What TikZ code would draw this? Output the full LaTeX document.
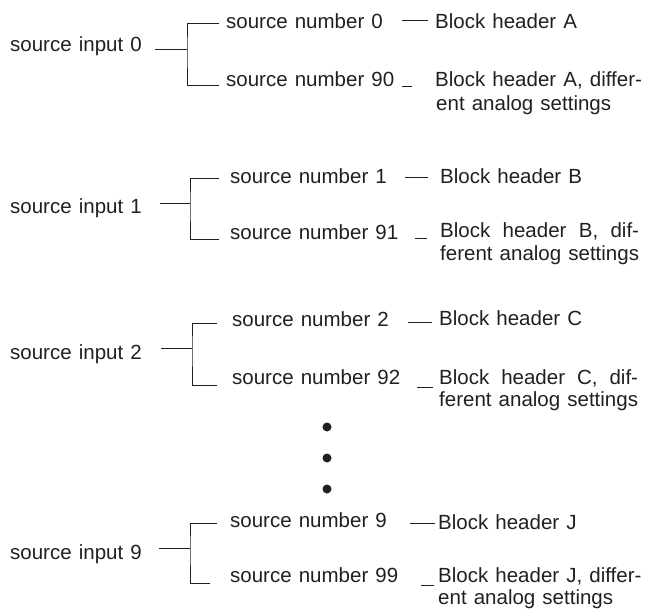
\documentclass[tikz,border=0pt]{standalone}
\usepackage{fontspec}
\usepackage{calc}
\setmainfont[WordSpace=1.25]{Liberation Sans}
\usetikzlibrary{calc}
\definecolor{ink}{HTML}{231F20}
\begin{document}
\begin{tikzpicture}[x=1pt,y=-1pt,
  lbl/.style={inner sep=0pt,anchor=base west,text=ink,font=\fontsize{20.5}{24}\selectfont},
  ln/.style={draw=ink,line width=1pt},
  dotmark/.style={circle,fill=ink,inner sep=0pt,minimum size=9pt}]
\useasboundingbox (0,0) rectangle (645,612);
\newcommand{\jw}[1]{\makebox[\widthof{ferent analog settings}][s]{#1}}

% ---------- group 0
\node[lbl] (in0) at (10,52) {source input 0};
\node[lbl] (n0a) at (226,29) {source number 0};
\node[lbl] (n0b) at (226,87) {source number 90};
\node[lbl] (h0a) at (435,29) {Block header A};
\node[lbl] (h0b) at (435,87) {Block header A, differ-};
\node[lbl] (h0c) at (436,111) {ent analog settings};
\coordinate (j0) at (187,50);
\draw[ln] ($(in0.base east)+(13,-2)$) -- (j0);
\draw[ln] ($(n0a.base west)+(-7,-5)$) -| (j0) |- ($(n0b.base west)+(-7,-1)$);
\draw[ln] ($(h0a.base west)+(-33,-8)$) -- ($(h0a.base west)+(-7,-8)$);
\draw[ln] ($(h0b.base west)+(-33,0)$) -- ($(h0b.base west)+(-23,0)$);

% ---------- group 1
\node[lbl] (in1) at (10,214) {source input 1};
\node[lbl] (n1a) at (230,184) {source number 1};
\node[lbl] (n1b) at (230,240) {source number 91};
\node[lbl] (h1a) at (440,184) {Block header B};
\node[lbl] (h1b) at (440,238) {\jw{Block header B, dif-}};
\node[lbl] (h1c) at (440,261) {ferent analog settings};
\coordinate (j1) at (190,204);
\draw[ln] ($(in1.base east)+(18,-10)$) -- (j1);
\draw[ln] ($(n1a.base west)+(-11,-5)$) -| (j1) |- ($(n1b.base west)+(-11,0)$);
\draw[ln] ($(h1a.base west)+(-35,-6)$) -- ($(h1a.base west)+(-12,-6)$);
\draw[ln] ($(h1b.base west)+(-25,1)$) -- ($(h1b.base west)+(-13,1)$);

% ---------- group 2
\node[lbl] (in2) at (10,359) {source input 2};
\node[lbl] (n2a) at (232,326) {source number 2};
\node[lbl] (n2b) at (232,384) {source number 92};
\node[lbl] (h2a) at (439,325) {Block header C};
\node[lbl] (h2b) at (439,384) {\jw{Block header C, dif-}};
\node[lbl] (h2c) at (439,406) {ferent analog settings};
\coordinate (j2) at (192,348);
\draw[ln] ($(in2.base east)+(19,-11)$) -- (j2);
\draw[ln] ($(n2a.base west)+(-15,-3)$) -| (j2) |- ($(n2b.base west)+(-15,1)$);
\draw[ln] ($(h2a.base west)+(-31,-3)$) -- ($(h2a.base west)+(-7,-3)$);
\draw[ln] ($(h2b.base west)+(-22,3)$) -- ($(h2b.base west)+(-6,3)$);

% ---------- dots
\node[dotmark] (d1) at (327,427) {};
\node[dotmark] (d2) at (327,458) {};
\node[dotmark] (d3) at (327,489) {};

% ---------- group 9
\node[lbl] (in9) at (10,559) {source input 9};
\node[lbl] (n9a) at (230,527) {source number 9};
\node[lbl] (n9b) at (230,582) {source number 99};
\node[lbl] (h9a) at (438,529) {Block header J};
\node[lbl] (h9b) at (438,582) {Block header J, differ-};
\node[lbl] (h9c) at (438,604) {ent analog settings};
\coordinate (j9) at (190,548);
\draw[ln] ($(in9.base east)+(17,-11)$) -- (j9);
\draw[ln] ($(n9a.base west)+(-13,-4)$) -| (j9) |- ($(n9b.base west)+(-20,1)$);
\draw[ln] ($(h9a.base west)+(-28,-6)$) -- ($(h9a.base west)+(-3,-6)$);
\draw[ln] ($(h9b.base west)+(-17,3)$) -- ($(h9b.base west)+(-4,3)$);
\end{tikzpicture}
\end{document}
